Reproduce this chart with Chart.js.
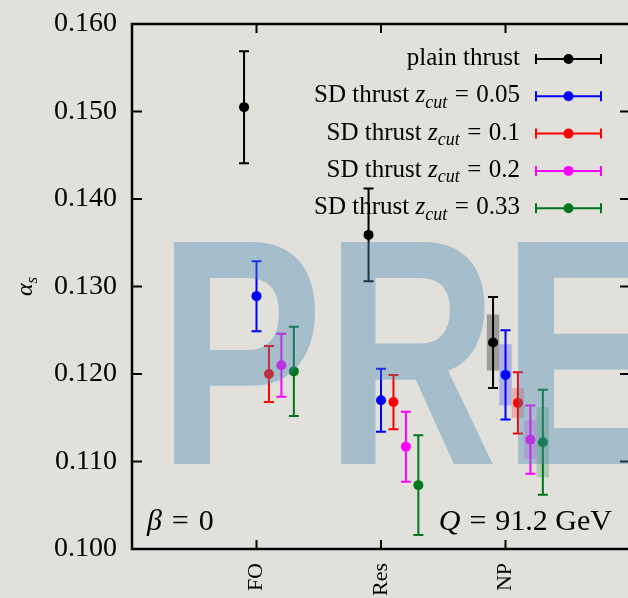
<!DOCTYPE html>
<html>
<head>
<meta charset="utf-8">
<script src="https://cdn.jsdelivr.net/npm/chart.js@4.4.1/dist/chart.umd.min.js"></script>
<style>
  html, body { margin: 0; padding: 0; overflow: hidden; background: #e1e0db; }
  canvas { display: block; }
</style>
</head>
<body>
<canvas id="c" width="640" height="598"></canvas>
<script>
"use strict";

// x axis categories sit at 1, 2, 3
const categories = ["FO", "Res", "NP"];
const yTicks = [0.1, 0.11, 0.12, 0.13, 0.14, 0.15, 0.16];

const seriesNames = ["plain thrust", "SD thrust", "SD thrust", "SD thrust", "SD thrust"];
const zcuts = [null, "0.05", "0.1", "0.2", "0.33"];
const colors = ["#000000", "#0000ff", "#ff0000", "#ff00ff", "#00771f"];
const xShift = [-0.1, 0, 0.1, 0.2, 0.3];

// alpha_s fits per category and their (symmetric) errors
const plainVal = [0.1505, 0.1359, 0.1236];
const plainErr = [0.0064, 0.0053, 0.0052];
const sd005Val = [0.1289, 0.1170, 0.1199];
const sd005Err = [0.0040, 0.0036, 0.0051];
const sd01Val = [0.1200, 0.1168, 0.1167];
const sd01Err = [0.0032, 0.0031, 0.0035];
const sd02Val = [0.1210, 0.1117, 0.1125];
const sd02Err = [0.0036, 0.0040, 0.0039];
const sd033Val = [0.1203, 0.1073, 0.1122];
const sd033Err = [0.0051, 0.0057, 0.0060];

// NP only: inner band half-height
const npBand = [0.0032, 0.0035, 0.0017, 0.0022, 0.0040];

const vals = [plainVal, sd005Val, sd01Val, sd02Val, sd033Val];
const errs = [plainErr, sd005Err, sd01Err, sd02Err, sd033Err];

const serif = '"Liberation Serif"';

function labelParts(i) {
  if (!zcuts[i]) return [{ t: seriesNames[i] }];
  return [
    { t: seriesNames[i] + " " },
    { t: "z", it: true },
    { t: "cut", it: true, sub: true },
    { t: "=", pad: 0.3 },
    { t: zcuts[i] },
  ];
}

// text runs: italic, subscript and math-style spacing around "="
function drawRich(ctx, parts, x, y, size, align) {
  const fontOf = (p) =>
    (p.it ? "italic " : "") + (p.sub ? Math.round(size * 0.7) : size) + "px " + serif;
  const widthOf = (p) => {
    ctx.font = fontOf(p);
    return ctx.measureText(p.t).width + 2 * (p.pad || 0) * size;
  };
  const w = parts.reduce((acc, p) => acc + widthOf(p), 0);
  let cx = align === "right" ? x - w : align === "center" ? x - w / 2 : x;
  ctx.textAlign = "left";
  ctx.textBaseline = "alphabetic";
  parts.forEach((p) => {
    const pw = widthOf(p);
    ctx.fillText(p.t, cx + (p.pad || 0) * size, y + (p.sub ? size * 0.22 : 0));
    cx += pw;
  });
}

function errorBarSymbol(ctx, x0, x1, yc, color) {
  ctx.strokeStyle = color;
  ctx.fillStyle = color;
  ctx.lineWidth = 2;
  ctx.beginPath();
  ctx.moveTo(x0, yc);
  ctx.lineTo(x1, yc);
  ctx.moveTo(x0, yc - 5);
  ctx.lineTo(x0, yc + 5);
  ctx.moveTo(x1, yc - 5);
  ctx.lineTo(x1, yc + 5);
  ctx.stroke();
  ctx.beginPath();
  ctx.arc((x0 + x1) / 2, yc, 5, 0, Math.PI * 2);
  ctx.fill();
}

// bands, error bars, legend and labels (under the points)
const errorBars = {
  id: "errorBars",
  beforeDatasetsDraw(chart) {
    const { ctx, chartArea: a, scales: { x, y } } = chart;
    ctx.save();

    // legend, right aligned
    vals.forEach((v, i) => {
      const ry = a.top + 35 + i * 37.3;
      ctx.fillStyle = "#000";
      drawRich(ctx, labelParts(i), a.right - 110, ry + 6, 25, "right");
      errorBarSymbol(ctx, a.right - 94, a.right - 29, ry, colors[i]);
    });

    ctx.fillStyle = "#000";
    drawRich(ctx, [{ t: "β", it: true }, { t: "=", pad: 0.33 }, { t: "0" }], a.left + 15, a.bottom - 19, 30, "left");
    drawRich(ctx, [{ t: "Q", it: true }, { t: "=", pad: 0.3 }, { t: "91.2 GeV" }], a.right - 18, a.bottom - 19, 30, "right");

    ctx.save();
    ctx.translate(32, (a.top + a.bottom) / 2);
    ctx.rotate(-Math.PI / 2);
    drawRich(ctx, [{ t: "α", it: true }, { t: "s", it: true, sub: true }], 0, 0, 24, "center");
    ctx.restore();

    const k = categories.indexOf("NP");
    vals.forEach((v, i) => {
      const cx = k + 1 + xShift[i];
      const x0 = x.getPixelForValue(cx - 0.05);
      const x1 = x.getPixelForValue(cx + 0.05);
      const y0 = y.getPixelForValue(v[k] + npBand[i]);
      const y1 = y.getPixelForValue(v[k] - npBand[i]);
      ctx.globalAlpha = i === 0 ? 0.3 : 0.22;
      ctx.fillStyle = colors[i];
      ctx.fillRect(x0, y0, x1 - x0, y1 - y0);
    });
    ctx.globalAlpha = 1;

    ctx.lineWidth = 2;
    vals.forEach((v, i) => {
      ctx.strokeStyle = colors[i];
      ctx.beginPath();
      v.forEach((val, j) => {
        const px = x.getPixelForValue(j + 1 + xShift[i]);
        const top = y.getPixelForValue(val + errs[i][j]);
        const bot = y.getPixelForValue(val - errs[i][j]);
        ctx.moveTo(px, top);
        ctx.lineTo(px, bot);
        ctx.moveTo(px - 5, top);
        ctx.lineTo(px + 5, top);
        ctx.moveTo(px - 5, bot);
        ctx.lineTo(px + 5, bot);
      });
      ctx.stroke();
    });
    ctx.restore();
  },
};

// box around the plot and inward ticks on all sides
const frame = {
  id: "frame",
  afterDatasetsDraw(chart) {
    const { ctx, chartArea: a, scales: { x, y } } = chart;
    ctx.save();
    ctx.strokeStyle = "#000";
    ctx.lineWidth = 2.5;
    ctx.strokeRect(a.left, a.top, a.right - a.left, a.bottom - a.top);
    ctx.lineWidth = 2;
    ctx.beginPath();
    y.ticks.forEach((t) => {
      const py = y.getPixelForValue(t.value);
      ctx.moveTo(a.left, py);
      ctx.lineTo(a.left + 10, py);
      ctx.moveTo(a.right, py);
      ctx.lineTo(a.right - 10, py);
    });
    x.ticks.forEach((t) => {
      const px = x.getPixelForValue(t.value);
      ctx.moveTo(px, a.bottom);
      ctx.lineTo(px, a.bottom - 9);
      ctx.moveTo(px, a.top);
      ctx.lineTo(px, a.top + 9);
    });
    ctx.stroke();
    ctx.restore();
  },
};

// "PRE" stamp over everything
const watermark = {
  id: "watermark",
  afterDraw(chart) {
    const { ctx } = chart;
    ctx.save();
    ctx.fillStyle = "rgba(70,135,180,0.38)";
    ctx.font = 'bold 320px "Liberation Sans"';
    ctx.textAlign = "left";
    ctx.textBaseline = "alphabetic";
    const top = 237, base = 464;
    const letters = [["P", 173, 317], ["R", 340, 493], ["E", 517, null]];
    let sxP = 1;
    letters.forEach(([ch, l, r]) => {
      const m = ctx.measureText(ch);
      const gw = m.actualBoundingBoxLeft + m.actualBoundingBoxRight;
      const sy = (base - top) / m.actualBoundingBoxAscent;
      const sx = r ? (r - l) / gw : sxP;
      if (ch === "P") sxP = sx;
      ctx.save();
      ctx.translate(l, base);
      ctx.scale(sx, sy);
      ctx.fillText(ch, m.actualBoundingBoxLeft, 0);
      ctx.restore();
    });
    ctx.restore();
  },
};

const datasets = vals.map((v, i) => ({
  label: seriesNames[i] + (zcuts[i] ? " zcut = " + zcuts[i] : ""),
  data: v.map((val, j) => ({ x: j + 1 + xShift[i], y: val })),
  backgroundColor: colors[i],
  borderColor: colors[i],
  pointRadius: 5,
  pointHoverRadius: 5,
  pointBorderWidth: 0,
}));

new Chart(document.getElementById("c"), {
  type: "scatter",
  data: { datasets },
  options: {
    responsive: false,
    animation: false,
    devicePixelRatio: 1,
    layout: { padding: { top: 24, right: 10, left: 0, bottom: 0 } },
    plugins: { legend: { display: false }, tooltip: { enabled: false } },
    scales: {
      x: {
        type: "linear",
        min: 0,
        max: 4,
        grid: { display: false, drawTicks: false },
        border: { display: false },
        afterBuildTicks: (s) => {
          s.ticks = categories.map((c, i) => ({ value: i + 1 }));
        },
        afterFit: (s) => {
          s.height = 49;
        },
        ticks: {
          minRotation: 90,
          maxRotation: 90,
          padding: 14,
          color: "#000",
          font: { family: "Liberation Serif", size: 22 },
          callback: (v) => categories[v - 1],
        },
      },
      y: {
        min: 0.1,
        max: 0.16,
        grid: { display: false, drawTicks: false },
        border: { display: false },
        afterBuildTicks: (s) => {
          s.ticks = yTicks.map((v) => ({ value: v }));
        },
        afterFit: (s) => {
          s.width = 132;
          s.paddingTop = 0;
          s.paddingBottom = 0;
        },
        ticks: {
          padding: 15,
          color: "#000",
          font: { family: "Liberation Serif", size: 28 },
          callback: (v) => v.toFixed(3),
        },
      },
    },
  },
  plugins: [errorBars, frame, watermark],
});
</script>
</body>
</html>
